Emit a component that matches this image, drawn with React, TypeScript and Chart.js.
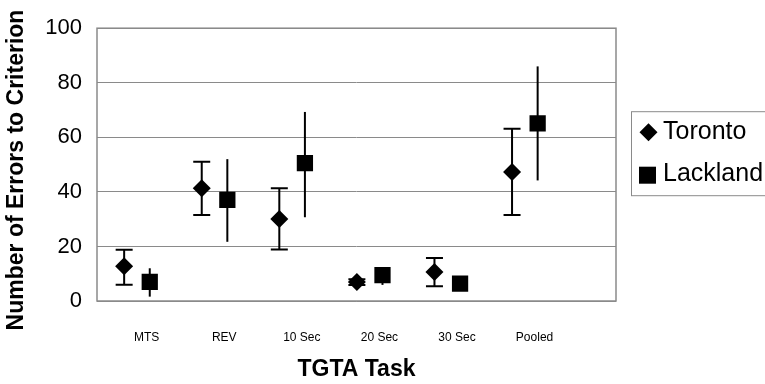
import React, { useEffect, useRef } from 'react';
import { Chart, registerables } from 'chart.js';

Chart.register(...registerables);

const categories = ['MTS', 'REV', '10 Sec', '20 Sec', '30 Sec', 'Pooled'];
const torontoMean = [12.7, 41.3, 30.1, 7.0, 10.6, 47.3];
const torontoLow = [6.0, 31.5, 18.9, 5.9, 5.4, 31.5];
const torontoHigh = [18.8, 51.0, 41.3, 8.0, 15.8, 63.1];
const lacklandMean = [7.0, 37.1, 50.5, 9.5, 6.4, 65.1];
const lacklandLow = [1.6, 21.7, 30.7, 5.9, 4.6, 44.2];
const lacklandHigh = [12.0, 52.0, 69.3, 11.5, 8.2, 86.0];
const yTicks = [0, 20, 40, 60, 80, 100];
const yTitle = 'Number of Errors to Criterion';
const xTitle = 'TGTA Task';

const FONT = '"Liberation Sans", Arial, Helvetica, sans-serif';
const GRID = '#8a8a8a';

export default function App() {
  const ref = useRef<HTMLCanvasElement>(null);

  useEffect(() => {
    if (!ref.current) return;

    const errorBars = {
      id: 'errorBars',
      beforeDatasetsDraw(chart: any) {
        const { ctx } = chart;
        const y = chart.scales.y;
        ctx.save();
        ctx.strokeStyle = '#000';
        ctx.lineWidth = 2;
        chart.data.datasets.forEach((ds: any, di: number) => {
          const meta = chart.getDatasetMeta(di);
          meta.data.forEach((pt: any, i: number) => {
            const px = pt.x;
            const yl = y.getPixelForValue(ds.errLow[i]);
            const yh = y.getPixelForValue(ds.errHigh[i]);
            ctx.beginPath();
            ctx.moveTo(px, yl);
            ctx.lineTo(px, yh);
            if (ds.capHalf > 0) {
              ctx.moveTo(px - ds.capHalf, yl);
              ctx.lineTo(px + ds.capHalf, yl);
              ctx.moveTo(px - ds.capHalf, yh);
              ctx.lineTo(px + ds.capHalf, yh);
            }
            ctx.stroke();
          });
        });
        ctx.restore();
      },
    };

    const frameAndLegend = {
      id: 'frameAndLegend',
      afterDraw(chart: any) {
        const { ctx, chartArea } = chart;
        ctx.save();
        // plot frame
        ctx.strokeStyle = GRID;
        ctx.lineWidth = 1.5;
        ctx.strokeRect(chartArea.left, chartArea.top, chartArea.right - chartArea.left, chartArea.bottom - chartArea.top);
        // y axis title
        ctx.save();
        ctx.translate(17, 170);
        ctx.rotate(-Math.PI / 2);
        ctx.fillStyle = '#000';
        ctx.font = `bold 23px ${FONT}`;
        ctx.textAlign = 'center';
        ctx.textBaseline = 'middle';
        ctx.fillText(yTitle, 0, 0);
        ctx.restore();
        // legend
        const lx = chartArea.right + 15;
        const ly = chartArea.top + 83;
        ctx.strokeStyle = GRID;
        ctx.lineWidth = 1;
        ctx.strokeRect(lx + 0.5, ly + 0.5, 240, 84);
        ctx.fillStyle = '#000';
        ctx.font = `25px ${FONT}`;
        ctx.textBaseline = 'middle';
        ctx.textAlign = 'left';
        const items = chart.data.datasets;
        // Toronto (diamond)
        const r = 9;
        const dx = lx + 17.5;
        const dy = ly + 21;
        ctx.beginPath();
        ctx.moveTo(dx - r, dy);
        ctx.lineTo(dx, dy - r);
        ctx.lineTo(dx + r, dy);
        ctx.lineTo(dx, dy + r);
        ctx.closePath();
        ctx.fill();
        ctx.fillText(items[0].label, lx + 32, dy);
        // Lackland (square)
        const s = 17;
        const sx = lx + 16.5;
        const sy = ly + 64;
        ctx.fillRect(sx - s / 2, sy - s / 2, s, s);
        ctx.fillText(items[1].label, lx + 32, sy - 1);
        ctx.restore();
      },
    };

    const chart = new Chart(ref.current, {
      type: 'scatter',
      data: {
        datasets: [
          {
            label: 'Toronto',
            data: torontoMean.map((v, i) => ({ x: i, y: v })),
            pointStyle: 'rectRot',
            pointRadius: 9,
            pointHoverRadius: 9,
            backgroundColor: '#000',
            borderColor: '#000',
            borderWidth: 0,
            errLow: torontoLow,
            errHigh: torontoHigh,
            capHalf: 8.5,
          } as any,
          {
            label: 'Lackland',
            data: lacklandMean.map((v, i) => ({ x: i + 0.33, y: v })),
            pointStyle: 'rect',
            pointRadius: 11.5,
            pointHoverRadius: 11.5,
            backgroundColor: '#000',
            borderColor: '#000',
            borderWidth: 0,
            errLow: lacklandLow,
            errHigh: lacklandHigh,
            capHalf: 0,
          } as any,
        ],
      },
      options: {
        animation: false,
        responsive: false,
        maintainAspectRatio: false,
        events: [],
        layout: { padding: { top: 24, right: 149, left: 0, bottom: 0 } },
        plugins: {
          legend: { display: false },
          tooltip: { enabled: false },
        },
        scales: {
          x: {
            type: 'linear',
            min: -0.35,
            max: 6.34,
            afterFit(scale: any) {
              scale.height = 83;
            },
            afterBuildTicks(scale: any) {
              scale.ticks = categories.map((_, i) => ({ value: i + 0.29 }));
            },
            grid: { display: false, drawTicks: false },
            border: { display: false },
            ticks: {
              autoSkip: false,
              maxRotation: 0,
              minRotation: 0,
              padding: 29,
              color: '#000',
              font: { family: FONT, size: 12 },
              callback: (_v: any, idx: number) => categories[idx],
            },
            title: {
              display: true,
              text: xTitle,
              color: '#000',
              font: { family: FONT, size: 23, weight: 'bold' },
              padding: { top: 0, bottom: 1 },
            },
          },
          y: {
            type: 'linear',
            min: 0,
            max: 100,
            afterFit(scale: any) {
              scale.width = 97;
            },
            afterBuildTicks(scale: any) {
              scale.ticks = yTicks.map((v) => ({ value: v }));
            },
            grid: { color: GRID, lineWidth: 1, drawTicks: false },
            border: { display: false },
            ticks: {
              padding: 15,
              color: '#000',
              font: { family: FONT, size: 22 },
            },
            title: { display: false },
          },
        },
      },
      plugins: [errorBars, frameAndLegend],
    });

    return () => chart.destroy();
  }, []);

  return (
    <div style={{ position: 'fixed', left: 0, top: 0, width: 765, height: 384, background: '#fff' }}>
      <canvas ref={ref} width={765} height={384} style={{ display: 'block' }} />
    </div>
  );
}
